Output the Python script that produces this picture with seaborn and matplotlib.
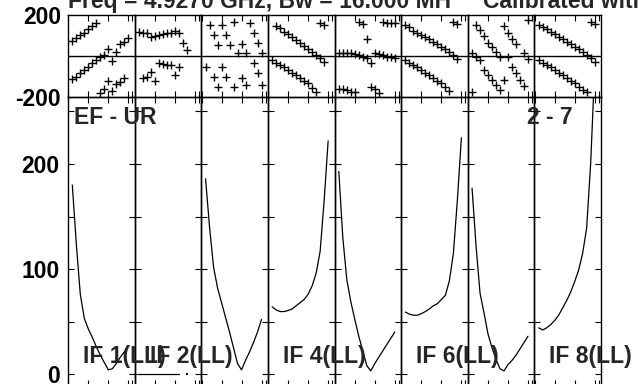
import matplotlib
matplotlib.use("Agg")
import matplotlib.pyplot as plt
import numpy as np
import pandas as pd
import seaborn as sns

nan = np.nan

# channel numbers inside each IF
channels = list(range(1, 16))
if_names = ["IF 1(LL)", "IF 2(LL)", "IF 3(LL)", "IF 4(LL)",
            "IF 5(LL)", "IF 6(LL)", "IF 7(LL)", "IF 8(LL)"]
if_labelled = [True, True, False, True, False, True, False, True]

title = "Freq = 4.9270 GHz, Bw = 16.000 MH     Calibrated with"
baseline_name = "EF - UR"
baseline_nums = "2 - 7"

amp_ticks = [0, 50, 100, 150, 200, 250]
amp_tick_labels = ["0", "", "100", "", "200", ""]
phase_ticks = [-200, 200]
phase_tick_labels = ["-200", "200"]
chan_ticks = [0, 5, 10, 15, 16]

# amplitude per channel
amp_if1 = [180, 124, 76, 53, 43, 35, 26, 18, 11, 4, 5, 10, 16, 21, 27]
amp_if2 = [0.4, 0.4, 0.4, 0.4, 0.4, 0.4, 0.4, 0.4, 0.4, 0.4, 0.4, nan, 0.4, nan, nan]
amp_if3 = [186, 140, 102, 82, 68, 54, 40, 25, 10, 4, 13, 21, 30, 40, 52]
amp_if4 = [64, 61, 59.5, 59.5, 60.5, 62, 65, 68, 71, 76, 84, 96, 117, 165, 222]
amp_if5 = [193, 130, 90, 69, 52, 36, 22, 8, 3, 10, 16, 22, 28, 34, 40]
amp_if6 = [59, 57, 56, 56, 57.5, 59.5, 62, 65, 67, 71, 75, 89, 115, 166, 225]
amp_if7 = [177, 122, 77, 58, 38, 25, 14, 5, 3, 9, 13, 18, 24, 30, 36]
amp_if8 = [44, 42, 44, 47, 51, 56, 63, 70, 78, 88, 99, 115, 139, 200, 290]

# phase per channel (two sets of points per IF)
phase_a_if1 = [-112, -102, -83, -68, -54, -34, -20, -5, 5, 34, -24, 21, 59, 70, 88]
phase_b_if1 = [75, 89, 102, 114, 130, 146, 160, -180, -161, -122, -171, -137, -127, -107, nan]
phase_a_if2 = [119, 114, 114, 91, 98, 102, 107, 111, 111, 124, 114, 62, 29, nan, nan]
phase_b_if2 = [nan, -109, -101, -77, -120, -33, -39, -44, -44, -93, -55, nan, nan, nan, nan]
phase_a_if3 = [nan, 151, 102, 54, 151, 102, 54, 167, nan, 59, 13, 163, 114, 65, 13]
phase_b_if3 = [-52, nan, -101, -150, -52, -101, nan, -150, 13, -109, -141, nan, -33, -81, -141]
phase_a_if4 = [nan, 146, 135, 119, 107, 94, 78, 62, 49, 33, 21, 5, -11, -28, nan]
phase_b_if4 = [-20, -33, -44, -55, -68, -81, -93, -109, -120, -133, -158, -174, 163, 151, nan]
phase_a_if5 = [16, 16, 16, 13, 10, 5, -3, -11, -33, 16, 10, 5, -3, -6, -11]
phase_b_if5 = [-163, -163, -166, -174, -174, 167, 156, 81, -153, -163, -179, 167, 163, 163, 159]
phase_a_if6 = [151, 140, 124, 114, 102, 91, 81, 70, 59, 45, 33, 21, 5, -16, nan]
phase_b_if6 = [-20, -33, -44, -55, -68, -81, -93, -109, -120, -133, -150, -169, 167, 156, nan]
phase_a_if7 = [16, -3, -20, -68, -93, -117, -141, -166, 146, 114, 81, 59, nan, 16, -16]
phase_b_if7 = [-174, 151, 127, 98, 65, 42, 21, -3, -117, -3, -55, -85, -117, -146, 176]
phase_a_if8 = [151, 140, 130, 119, 107, 94, 81, 70, 59, 45, 33, 21, 5, -11, -28]
phase_b_if8 = [-20, -33, -44, -55, -68, -81, -93, -109, -120, -133, -150, -166, -174, 167, 156]

amps = [amp_if1, amp_if2, amp_if3, amp_if4, amp_if5, amp_if6, amp_if7, amp_if8]
phases_a = [phase_a_if1, phase_a_if2, phase_a_if3, phase_a_if4,
            phase_a_if5, phase_a_if6, phase_a_if7, phase_a_if8]
phases_b = [phase_b_if1, phase_b_if2, phase_b_if3, phase_b_if4,
            phase_b_if5, phase_b_if6, phase_b_if7, phase_b_if8]

rows = []
for i in range(len(if_names)):
    for ch, amp, pa, pb in zip(channels, amps[i], phases_a[i], phases_b[i]):
        rows.append({"IF": i, "channel": ch, "amp": amp, "pa": pa, "pb": pb})
df = pd.DataFrame(rows)
# split amplitude curves at flagged channels
df["seg"] = df.groupby("IF")["amp"].transform(lambda s: s.isna().cumsum())
prev_na = df.groupby("IF")["amp"].shift(1).isna()
next_na = df.groupby("IF")["amp"].shift(-1).isna()
df["lonely"] = df["amp"].notna() & prev_na & next_na
phase_df = df.melt(id_vars=["IF", "channel"], value_vars=["pa", "pb"],
                   value_name="phase").dropna(subset=["phase"])

sns.set_theme(style="white")
plt.rcParams["font.family"] = ["Liberation Sans", "DejaVu Sans"]
plt.rcParams["font.weight"] = "bold"
plt.rcParams["font.size"] = 16.5
plt.rcParams["xtick.labelsize"] = 16.5
plt.rcParams["ytick.labelsize"] = 16.5
plt.rcParams["axes.edgecolor"] = "black"
plt.rcParams["axes.linewidth"] = 1.0
plt.rcParams["xtick.color"] = "black"
plt.rcParams["ytick.color"] = "black"

W, H = 639, 384
fig = plt.figure(figsize=(W / 100, H / 100), dpi=100)
fig.patch.set_facecolor("white")

x0, x1 = 68, 601
col_w = (x1 - x0) / len(if_names)
ph_top, ph_bot, amp_bot = 15, 97, 386
amp_lim = (-11.4, 263.8)
chan_lim = (-0.075, 16.59)

for i in range(len(if_names)):
    left = (x0 + i * col_w) / W
    ax_p = fig.add_axes([left, 1 - ph_bot / H, col_w / W, (ph_bot - ph_top) / H])
    ax_a = fig.add_axes([left, 1 - amp_bot / H, col_w / W, (amp_bot - ph_bot) / H])

    sub_p = phase_df[phase_df["IF"] == i]
    ax_p.axhline(0, color="black", lw=1.0)
    sns.scatterplot(data=sub_p, x="channel", y="phase", marker="+",
                    color="black", s=36, linewidth=1.0, ax=ax_p, legend=False)
    ax_p.set_ylim(-200, 200)
    ax_p.set_xlim(*chan_lim)
    ax_p.set_yticks(phase_ticks)
    ax_p.set_xticks(chan_ticks)
    ax_p.set_xticklabels([])
    if i == 0:
        ax_p.set_yticklabels(phase_tick_labels)
    else:
        ax_p.set_yticklabels([])
    ax_p.tick_params(axis="y", length=0, pad=5)
    ax_p.tick_params(axis="x", direction="in", top=True, bottom=True,
                     length=4, width=0.8)

    sub_a = df[(df["IF"] == i) & df["amp"].notna()]
    sns.lineplot(data=sub_a, x="channel", y="amp", units="seg",
                 estimator=None, sort=False, color="black", lw=0.9, ax=ax_a)
    lonely = sub_a[sub_a["lonely"]]
    if len(lonely):
        sns.scatterplot(data=lonely, x="channel", y="amp", marker="s",
                        color="black", s=2, linewidth=0, ax=ax_a, legend=False)
    ax_a.set_ylim(*amp_lim)
    ax_a.set_xlim(*chan_lim)
    ax_a.set_yticks(amp_ticks)
    ax_a.set_xticks(chan_ticks)
    ax_a.set_xticklabels([])
    if i == 0:
        ax_a.set_yticklabels(amp_tick_labels)
    else:
        ax_a.set_yticklabels([])
    ax_a.tick_params(axis="y", direction="in", left=True, right=True,
                     length=4, width=0.8, pad=6)
    ax_a.tick_params(axis="x", direction="in", top=True, bottom=True,
                     length=4, width=0.8)

    for ax in (ax_p, ax_a):
        ax.set_xlabel("")
        ax.set_ylabel("")
        ax.set_facecolor("none")

    if if_labelled[i]:
        fig.text((x0 + i * col_w + 15) / W, 1 - 362.5 / H, if_names[i],
                 ha="left", va="baseline", fontweight="bold")

fig.text(x0 / W, 1 - 8 / H, title, ha="left", va="baseline", fontweight="bold")
fig.text(74 / W, 1 - 124 / H, baseline_name, ha="left", va="baseline",
         fontweight="bold")
fig.text(527 / W, 1 - 124 / H, baseline_nums, ha="left", va="baseline",
         fontweight="bold")

fig.savefig("out.png", dpi=100)
